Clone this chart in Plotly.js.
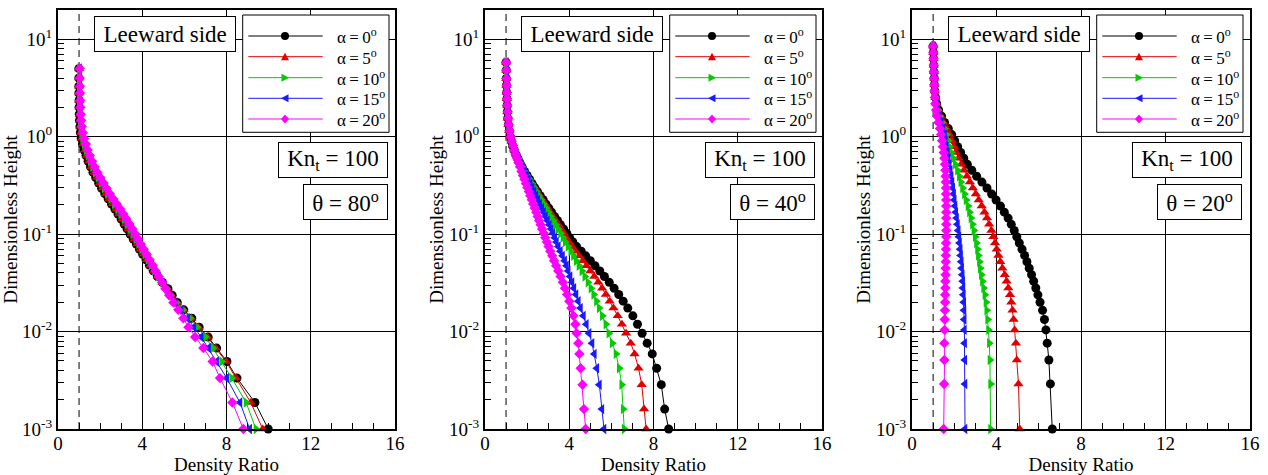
<!DOCTYPE html>
<html>
<head>
<meta charset="utf-8">
<script src="https://cdn.plot.ly/plotly-3.0.1.min.js"></script>
<style>
html,body{margin:0;padding:0;background:#fff;}
#chart{width:1268px;height:475px;}
</style>
</head>
<body>
<div id="chart"></div>
<script>
// ---------------- DATA ----------------
const alphaLabels = ['0', '5', '10', '15', '20'];
const thetaLabels = ['80', '40', '20'];
const knudsenLabel = '100';
const xTickVals = [0, 4, 8, 12, 16];
const xTickText = ['0', '4', '8', '12', '16'];
const yTickVals = [0.001, 0.01, 0.1, 1, 10];
const yTickText = ['10<sup>-3</sup>', '10<sup>-2</sup>', '10<sup>-1</sup>', '10<sup>0</sup>', '10<sup>1</sup>'];
const freestreamRatio = 1;

// theta = 80 deg
const heightTheta80 = [0.001, 0.00187, 0.00333, 0.00493, 0.00677, 0.00878, 0.0111, 0.0137, 0.0167, 0.0199,
  0.0236, 0.0275, 0.0319, 0.0367, 0.042, 0.048, 0.0545, 0.062, 0.070, 0.079,
  0.089, 0.100, 0.113, 0.127, 0.143, 0.161, 0.181, 0.204, 0.230, 0.260,
  0.295, 0.335, 0.380, 0.430, 0.490, 0.560, 0.640, 0.730, 0.840, 0.960,
  1.10, 1.27, 1.47, 1.70, 2.00, 2.35, 2.80, 3.30, 4.00, 5.00];
const densityTheta80Alpha0 = [9.98, 9.35, 8.50, 8.02, 7.53, 7.13, 6.70, 6.35, 5.97, 5.66,
  5.42, 5.22, 4.96, 4.72, 4.52, 4.34, 4.18, 4.02, 3.87, 3.72,
  3.57, 3.42, 3.28, 3.14, 3.00, 2.85, 2.70, 2.54, 2.38, 2.22,
  2.07, 1.93, 1.79, 1.66, 1.54, 1.43, 1.33, 1.24, 1.16, 1.10,
  1.06, 1.04, 1.02, 1.01, 1.00, 1.00, 0.99, 0.99, 0.99, 0.99];
const densityTheta80Alpha5 = [9.72, 9.15, 8.45, 7.98, 7.48, 7.10, 6.67, 6.33, 5.96, 5.65,
  5.39, 5.19, 4.96, 4.74, 4.55, 4.38, 4.22, 4.07, 3.92, 3.77,
  3.63, 3.48, 3.34, 3.20, 3.06, 2.91, 2.76, 2.60, 2.44, 2.28,
  2.13, 1.99, 1.85, 1.71, 1.59, 1.48, 1.37, 1.28, 1.20, 1.13,
  1.09, 1.06, 1.04, 1.03, 1.02, 1.01, 1.00, 1.00, 1.00, 1.00];
const densityTheta80Alpha10 = [9.40, 8.93, 8.25, 7.77, 7.35, 7.00, 6.60, 6.27, 5.92, 5.62,
  5.35, 5.16, 4.95, 4.75, 4.58, 4.42, 4.27, 4.12, 3.97, 3.83,
  3.69, 3.55, 3.41, 3.27, 3.13, 2.98, 2.83, 2.67, 2.50, 2.34,
  2.19, 2.05, 1.90, 1.77, 1.64, 1.53, 1.42, 1.33, 1.24, 1.17,
  1.12, 1.08, 1.06, 1.04, 1.03, 1.02, 1.02, 1.01, 1.01, 1.01];
const densityTheta80Alpha15 = [9.10, 8.64, 8.01, 7.53, 7.15, 6.80, 6.45, 6.15, 5.85, 5.57,
  5.32, 5.13, 4.95, 4.77, 4.60, 4.45, 4.31, 4.16, 4.02, 3.88,
  3.74, 3.61, 3.47, 3.33, 3.19, 3.04, 2.89, 2.73, 2.56, 2.40,
  2.25, 2.10, 1.96, 1.82, 1.69, 1.57, 1.46, 1.37, 1.28, 1.20,
  1.15, 1.11, 1.08, 1.06, 1.05, 1.04, 1.03, 1.03, 1.02, 1.02];
const densityTheta80Alpha20 = [8.80, 8.28, 7.69, 7.34, 6.90, 6.51, 6.19, 5.95, 5.71, 5.48,
  5.28, 5.10, 4.94, 4.78, 4.63, 4.49, 4.35, 4.21, 4.07, 3.93,
  3.80, 3.67, 3.53, 3.39, 3.25, 3.10, 2.95, 2.79, 2.62, 2.46,
  2.31, 2.16, 2.01, 1.87, 1.74, 1.62, 1.51, 1.41, 1.32, 1.24,
  1.18, 1.13, 1.10, 1.08, 1.06, 1.05, 1.04, 1.04, 1.03, 1.03];

// theta = 40 deg
const heightTheta40 = [0.001, 0.0016, 0.00285, 0.0042, 0.0059, 0.0076, 0.0096, 0.0119, 0.0145, 0.0174,
  0.0205, 0.024, 0.0278, 0.032, 0.0367, 0.0418, 0.0473, 0.0533, 0.0598, 0.0668,
  0.0745, 0.083, 0.092, 0.102, 0.113, 0.125, 0.138, 0.152, 0.168, 0.185,
  0.204, 0.225, 0.248, 0.273, 0.300, 0.330, 0.365, 0.400, 0.440, 0.490,
  0.540, 0.600, 0.660, 0.730, 0.810, 0.900, 1.00, 1.15, 1.33, 1.55,
  1.80, 2.10, 2.45, 2.85, 3.35, 3.95, 4.80, 5.80];
const densityTheta40Alpha0 = [8.72, 8.53, 8.37, 8.15, 7.94, 7.70, 7.46, 7.24, 7.02, 6.78,
  6.56, 6.35, 6.13, 5.90, 5.67, 5.45, 5.22, 5.00, 4.78, 4.57,
  4.35, 4.17, 4.02, 3.88, 3.73, 3.58, 3.44, 3.30, 3.16, 3.03,
  2.89, 2.76, 2.62, 2.49, 2.36, 2.24, 2.12, 2.00, 1.88, 1.76,
  1.65, 1.55, 1.46, 1.38, 1.31, 1.25, 1.20, 1.15, 1.11, 1.08,
  1.06, 1.05, 1.04, 1.03, 1.02, 1.01, 1.01, 1.00];
const densityTheta40Alpha5 = [7.65, 7.55, 7.44, 7.29, 7.10, 6.92, 6.70, 6.50, 6.30, 6.10,
  5.92, 5.74, 5.56, 5.38, 5.19, 5.00, 4.82, 4.64, 4.47, 4.30,
  4.14, 3.98, 3.85, 3.74, 3.61, 3.48, 3.35, 3.22, 3.09, 2.97,
  2.85, 2.72, 2.59, 2.47, 2.35, 2.23, 2.11, 2.00, 1.88, 1.77,
  1.66, 1.56, 1.47, 1.39, 1.32, 1.26, 1.21, 1.15, 1.11, 1.08,
  1.06, 1.05, 1.04, 1.03, 1.02, 1.01, 1.01, 1.00];
const densityTheta40Alpha10 = [6.61, 6.56, 6.49, 6.37, 6.22, 6.04, 5.88, 5.74, 5.57, 5.42,
  5.29, 5.16, 5.03, 4.89, 4.74, 4.60, 4.46, 4.33, 4.20, 4.07,
  3.94, 3.81, 3.70, 3.59, 3.47, 3.35, 3.23, 3.11, 3.00, 2.89,
  2.78, 2.66, 2.55, 2.44, 2.33, 2.22, 2.11, 2.00, 1.89, 1.78,
  1.68, 1.58, 1.49, 1.41, 1.34, 1.28, 1.22, 1.16, 1.12, 1.09,
  1.07, 1.05, 1.04, 1.03, 1.02, 1.02, 1.01, 1.00];
const densityTheta40Alpha15 = [5.65, 5.55, 5.43, 5.31, 5.19, 5.08, 4.94, 4.81, 4.67, 4.53,
  4.43, 4.32, 4.22, 4.13, 4.04, 3.95, 3.87, 3.78, 3.68, 3.58,
  3.48, 3.39, 3.31, 3.23, 3.14, 3.05, 2.96, 2.87, 2.78, 2.69,
  2.60, 2.51, 2.42, 2.33, 2.24, 2.15, 2.06, 1.97, 1.87, 1.77,
  1.67, 1.58, 1.49, 1.41, 1.34, 1.28, 1.22, 1.16, 1.12, 1.09,
  1.07, 1.05, 1.04, 1.03, 1.02, 1.02, 1.01, 1.00];
const densityTheta40Alpha20 = [4.78, 4.70, 4.63, 4.54, 4.48, 4.43, 4.35, 4.29, 4.20, 4.10,
  4.00, 3.90, 3.80, 3.70, 3.59, 3.48, 3.38, 3.28, 3.19, 3.10,
  3.02, 2.94, 2.86, 2.79, 2.71, 2.64, 2.57, 2.50, 2.43, 2.36,
  2.29, 2.22, 2.15, 2.08, 2.01, 1.94, 1.87, 1.80, 1.73, 1.66,
  1.59, 1.52, 1.45, 1.39, 1.33, 1.27, 1.22, 1.17, 1.13, 1.10,
  1.08, 1.06, 1.05, 1.04, 1.03, 1.02, 1.01, 1.00];

// theta = 20 deg
const heightTheta20 = [0.001, 0.0029, 0.0051, 0.0076, 0.0104, 0.0133, 0.0165, 0.020, 0.0238, 0.028,
  0.0328, 0.0383, 0.0446, 0.052, 0.0605, 0.070, 0.081, 0.094, 0.109, 0.126,
  0.146, 0.168, 0.194, 0.224, 0.258, 0.297, 0.342, 0.393, 0.452, 0.52,
  0.60, 0.69, 0.79, 0.91, 1.05, 1.21, 1.40, 1.62, 1.88, 2.18,
  2.53, 2.94, 3.42, 3.98, 4.63, 5.4, 6.3, 7.3, 8.5];
const densityTheta20Alpha0 = [6.64, 6.55, 6.48, 6.40, 6.34, 6.27, 6.18, 6.06, 5.96, 5.86,
  5.76, 5.66, 5.55, 5.44, 5.33, 5.21, 5.08, 4.96, 4.84, 4.70,
  4.55, 4.37, 4.19, 3.98, 3.77, 3.55, 3.31, 3.06, 2.83, 2.62,
  2.45, 2.30, 2.16, 2.02, 1.88, 1.72, 1.54, 1.40, 1.26, 1.17,
  1.11, 1.08, 1.06, 1.05, 1.04, 1.03, 1.02, 1.01, 1.00];
const densityTheta20Alpha5 = [5.10, 5.04, 4.96, 4.92, 4.86, 4.81, 4.76, 4.70, 4.64, 4.56,
  4.48, 4.39, 4.28, 4.18, 4.09, 4.01, 3.93, 3.85, 3.76, 3.65,
  3.55, 3.43, 3.30, 3.16, 3.02, 2.88, 2.74, 2.60, 2.46, 2.33,
  2.20, 2.08, 1.98, 1.88, 1.77, 1.64, 1.50, 1.37, 1.25, 1.16,
  1.11, 1.08, 1.06, 1.05, 1.04, 1.03, 1.02, 1.01, 1.00];
const densityTheta20Alpha10 = [3.72, 3.72, 3.69, 3.66, 3.62, 3.58, 3.54, 3.50, 3.45, 3.39,
  3.33, 3.28, 3.23, 3.19, 3.14, 3.10, 3.05, 2.99, 2.93, 2.86,
  2.79, 2.72, 2.65, 2.56, 2.48, 2.39, 2.31, 2.24, 2.15, 2.05,
  1.95, 1.86, 1.78, 1.71, 1.63, 1.53, 1.42, 1.32, 1.23, 1.15,
  1.10, 1.07, 1.06, 1.05, 1.04, 1.03, 1.02, 1.01, 1.00];
const densityTheta20Alpha15 = [2.51, 2.51, 2.50, 2.49, 2.48, 2.47, 2.46, 2.45, 2.43, 2.41,
  2.40, 2.38, 2.35, 2.33, 2.30, 2.28, 2.25, 2.22, 2.19, 2.15,
  2.11, 2.07, 2.04, 2.00, 1.97, 1.93, 1.89, 1.85, 1.81, 1.76,
  1.72, 1.67, 1.62, 1.58, 1.54, 1.47, 1.38, 1.30, 1.22, 1.15,
  1.10, 1.07, 1.06, 1.05, 1.04, 1.03, 1.02, 1.01, 1.00];
const densityTheta20Alpha20 = [1.50, 1.52, 1.53, 1.53, 1.54, 1.55, 1.56, 1.57, 1.57, 1.58,
  1.58, 1.59, 1.59, 1.60, 1.60, 1.61, 1.61, 1.62, 1.62, 1.62,
  1.62, 1.62, 1.62, 1.62, 1.61, 1.61, 1.60, 1.59, 1.58, 1.56,
  1.53, 1.50, 1.46, 1.42, 1.38, 1.32, 1.25, 1.19, 1.14, 1.10,
  1.08, 1.06, 1.05, 1.04, 1.03, 1.03, 1.02, 1.01, 1.00];

// ---------------- BUILD ----------------
const panels = [
  {height: heightTheta80, series: [densityTheta80Alpha0, densityTheta80Alpha5, densityTheta80Alpha10, densityTheta80Alpha15, densityTheta80Alpha20]},
  {height: heightTheta40, series: [densityTheta40Alpha0, densityTheta40Alpha5, densityTheta40Alpha10, densityTheta40Alpha15, densityTheta40Alpha20]},
  {height: heightTheta20, series: [densityTheta20Alpha0, densityTheta20Alpha5, densityTheta20Alpha10, densityTheta20Alpha15, densityTheta20Alpha20]}
];

const styles = [
  {color: '#000000', symbol: 'circle', size: 9},
  {color: '#e00000', symbol: 'triangle-up', size: 9},
  {color: '#00cc00', symbol: 'triangle-right', size: 9},
  {color: '#1a1aff', symbol: 'triangle-left', size: 9},
  {color: '#ff00ff', symbol: 'diamond', size: 8}
];

const FW = 1268, FH = 475, ML = 58, MR = 18, MT = 10, MB = 46;
const PW = FW - ML - MR, PH = FH - MT - MB;
const panelLeft = [58, 485, 912];
const panelW = [337, 337, 338];
const fx = px => (px - ML) / PW;
const fy = py => (FH - MB - py) / PH;
const SERIF = 'Liberation Serif, Times New Roman, serif';

const traces = [];
panels.forEach((p, i) => {
  const sfx = i === 0 ? '' : String(i + 1);
  p.series.forEach((vals, s) => {
    traces.push({
      type: 'scatter', mode: 'lines+markers',
      x: vals, y: p.height,
      xaxis: 'x' + sfx, yaxis: 'y' + sfx,
      name: 'α = ' + alphaLabels[s] + '°',
      showlegend: false, cliponaxis: false,
      line: {color: styles[s].color, width: 1},
      marker: {color: styles[s].color, symbol: styles[s].symbol, size: styles[s].size, line: {width: 0}},
      hoverinfo: 'x+y+name'
    });
  });
});

const layout = {
  width: FW, height: FH,
  margin: {l: ML, r: MR, t: MT, b: MB, pad: 0},
  paper_bgcolor: '#fff', plot_bgcolor: '#fff',
  showlegend: false,
  font: {family: SERIF, color: '#000', size: 19},
  shapes: [], annotations: []
};

panels.forEach((p, i) => {
  const sfx = i === 0 ? '' : String(i + 1);
  const L = panelLeft[i], W = panelW[i];
  layout['xaxis' + sfx] = {
    domain: [fx(L), fx(L + W)], anchor: 'y' + sfx, range: [0, 16],
    tickmode: 'array', tickvals: xTickVals, ticktext: xTickText,
    ticks: 'inside', ticklen: 10, tickwidth: 1, tickcolor: '#000',
    ticklabelstandoff: -4,
    minor: {dtick: 1, tick0: 0, ticks: 'inside', ticklen: 6, tickwidth: 1, tickcolor: '#000', showgrid: false},
    showgrid: true, gridcolor: '#000', gridwidth: 1,
    showline: true, linecolor: '#000', linewidth: 2, mirror: true, zeroline: false,
    tickfont: {family: SERIF, size: 19, color: '#000'},
    title: {text: 'Density Ratio', font: {family: SERIF, size: 19, color: '#000'}, standoff: 4},
    automargin: false, fixedrange: true
  };
  layout['yaxis' + sfx] = {
    domain: [0, 1], anchor: 'x' + sfx, type: 'log', range: [-3, 1.3],
    tickmode: 'array', tickvals: yTickVals, ticktext: yTickText,
    ticks: 'inside', ticklen: 10, tickwidth: 1, tickcolor: '#000',
    minor: {dtick: 'D1', ticks: 'inside', ticklen: 6, tickwidth: 1, tickcolor: '#000', showgrid: false},
    showgrid: true, gridcolor: '#000', gridwidth: 1,
    showline: true, linecolor: '#000', linewidth: 2, mirror: true, zeroline: false,
    tickfont: {family: SERIF, size: 19, color: '#000'},
    title: {text: 'Dimensionless Height', font: {family: SERIF, size: 19, color: '#000'}, standoff: 0},
    automargin: false, fixedrange: true
  };

  // dashed freestream reference line
  layout.shapes.push({type: 'line', xref: 'x' + sfx, yref: 'y' + sfx + ' domain', x0: freestreamRatio, x1: freestreamRatio, y0: 0, y1: 1,
    line: {color: '#000', width: 1, dash: '7px,5px'}, layer: 'below'});

  // text boxes
  const boxAnn = (text, x0, y0, w, h) => ({
    xref: 'paper', yref: 'paper', x: fx(L + x0), y: fy(y0), xanchor: 'left', yanchor: 'top',
    width: w - 2, height: h - 2, text: text, showarrow: false, align: 'center', valign: 'middle',
    bgcolor: '#fff', bordercolor: '#000', borderwidth: 1, borderpad: 0,
    font: {family: SERIF, size: 23, color: '#000'}
  });
  layout.annotations.push(boxAnn('Leeward side', 36.3, 15.7, 142.4, 36));
  layout.annotations.push(boxAnn('Kn<sub>t</sub> = ' + knudsenLabel, 220.3, 141.7, 110, 35.6));
  layout.annotations.push(boxAnn('θ = ' + thetaLabels[i] + '<sup>o</sup>', 245.3, 184.3, 85, 35.7));

  // legend box
  layout.shapes.push({type: 'rect', xref: 'paper', yref: 'paper', x0: fx(L + 184.7), x1: fx(L + 331), y0: fy(132.3), y1: fy(15),
    fillcolor: '#fff', line: {color: '#000', width: 1}, layer: 'above'});
  const rowY = [36, 56.7, 77.7, 98.3, 119];
  styles.forEach((st, s) => {
    const cy = rowY[s], cx = L + 227;
    layout.shapes.push({type: 'line', xref: 'paper', yref: 'paper', x0: fx(L + 190.3), x1: fx(L + 264.7), y0: fy(cy), y1: fy(cy),
      line: {color: st.color, width: 1}, layer: 'above'});
    const P = (dx, dy) => fx(cx + dx) + ',' + fy(cy + dy);
    let path = null;
    if (st.symbol === 'circle') {
      layout.shapes.push({type: 'circle', xref: 'paper', yref: 'paper', x0: fx(cx - 4), x1: fx(cx + 4), y0: fy(cy + 4), y1: fy(cy - 4),
        fillcolor: st.color, line: {width: 0}, layer: 'above'});
    } else if (st.symbol === 'triangle-up') {
      path = 'M' + P(-4, 3.5) + 'L' + P(4, 3.5) + 'L' + P(0, -4) + 'Z';
    } else if (st.symbol === 'triangle-right') {
      path = 'M' + P(-3.5, -4) + 'L' + P(-3.5, 4) + 'L' + P(4, 0) + 'Z';
    } else if (st.symbol === 'triangle-left') {
      path = 'M' + P(3.5, -4) + 'L' + P(3.5, 4) + 'L' + P(-4, 0) + 'Z';
    } else if (st.symbol === 'diamond') {
      path = 'M' + P(0, -4.5) + 'L' + P(4, 0) + 'L' + P(0, 4.5) + 'L' + P(-4, 0) + 'Z';
    }
    if (path) layout.shapes.push({type: 'path', xref: 'paper', yref: 'paper', path: path, fillcolor: st.color, line: {width: 0}, layer: 'above'});
    layout.annotations.push({xref: 'paper', yref: 'paper', x: fx(L + 277), y: fy(cy), xanchor: 'left', yanchor: 'middle',
      text: 'α\u2009=\u2009' + alphaLabels[s] + '<sup>o</sup>', showarrow: false,
      font: {family: SERIF, size: 17, color: '#000'}});
  });
});

Plotly.newPlot('chart', traces, layout, {staticPlot: true, displayModeBar: false});
</script>
</body>
</html>
